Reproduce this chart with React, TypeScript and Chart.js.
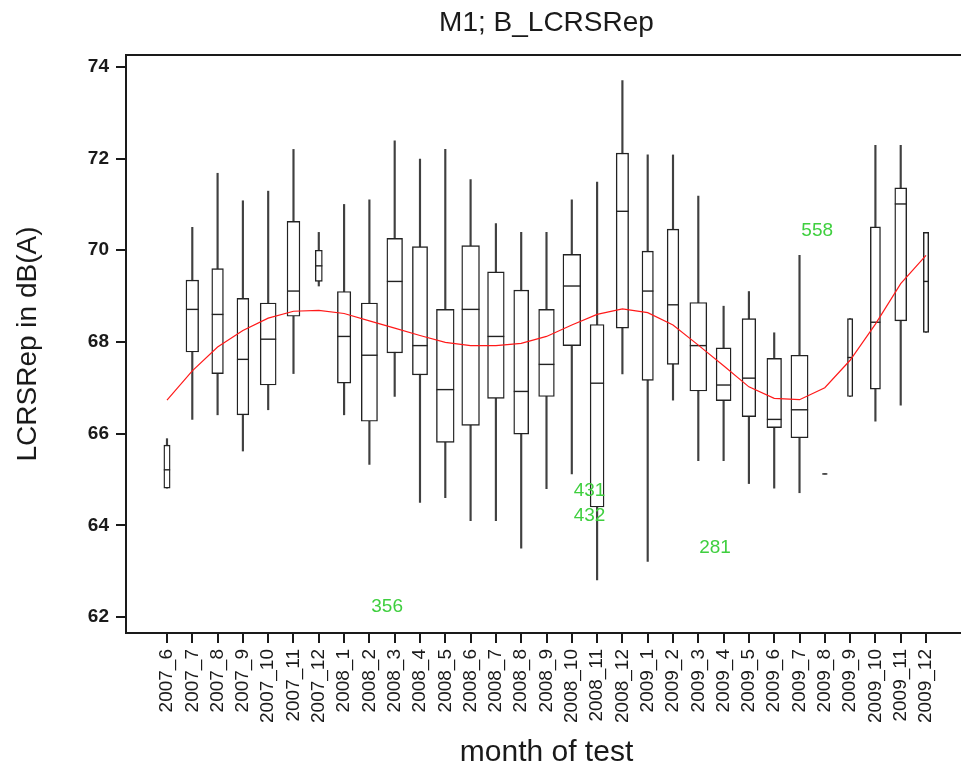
import React, { useEffect, useRef } from "react";
import { Chart, registerables } from "chart.js";

Chart.register(...registerables);

const months = [
  "2007_6", "2007_7", "2007_8", "2007_9", "2007_10", "2007_11", "2007_12",
  "2008_1", "2008_2", "2008_3", "2008_4", "2008_5", "2008_6", "2008_7", "2008_8", "2008_9", "2008_10", "2008_11", "2008_12",
  "2009_1", "2009_2", "2009_3", "2009_4", "2009_5", "2009_6", "2009_7", "2009_8", "2009_9", "2009_10", "2009_11", "2009_12",
];

const whiskerLow = [64.81, 66.31, 66.41, 65.62, 66.52, 67.31, 69.22, 66.41, 65.33, 66.81, 64.5, 64.6, 64.1, 64.1, 63.5, 64.8, 65.12, 62.81, 67.3, 63.21, 66.73, 65.41, 65.41, 64.91, 64.81, 64.71, 65.12, 66.81, 66.27, 66.62, 68.21];
const q1 = [64.81, 67.78, 67.31, 66.41, 67.06, 68.56, 69.32, 67.1, 66.27, 67.76, 67.28, 65.81, 66.18, 66.77, 65.99, 66.81, 67.92, 64.4, 68.3, 67.16, 67.51, 66.93, 66.72, 66.37, 66.13, 65.91, 65.12, 66.81, 66.97, 68.46, 68.21];
const median = [65.21, 68.71, 68.6, 67.62, 68.06, 69.11, 69.66, 68.12, 67.71, 69.32, 67.92, 66.96, 68.71, 68.12, 66.92, 67.51, 69.22, 67.1, 70.85, 69.11, 68.81, 67.92, 67.06, 67.21, 66.31, 66.52, 65.12, 67.66, 68.43, 71.01, 69.32];
const q3 = [65.75, 69.35, 69.6, 68.95, 68.85, 70.63, 70.0, 69.1, 68.85, 70.26, 70.08, 68.71, 70.1, 69.53, 69.13, 68.71, 69.91, 68.38, 72.12, 69.98, 70.46, 68.86, 67.87, 68.51, 67.64, 67.71, 65.12, 68.51, 70.51, 71.36, 70.39];
const whiskerHigh = [65.89, 70.5, 71.68, 71.08, 71.29, 72.2, 70.39, 71.0, 71.1, 72.39, 71.99, 72.2, 71.54, 70.58, 70.39, 70.39, 71.1, 71.49, 73.7, 72.08, 72.08, 71.18, 68.78, 69.1, 68.2, 69.89, 65.12, 68.51, 72.29, 72.29, 70.39];
// relative box width (variable-width boxplot, in category units)
const boxWidthRel = [0.25, 0.5, 0.46, 0.47, 0.63, 0.51, 0.28, 0.53, 0.64, 0.62, 0.6, 0.7, 0.7, 0.66, 0.59, 0.62, 0.7, 0.55, 0.49, 0.45, 0.46, 0.67, 0.59, 0.54, 0.58, 0.68, 0.2, 0.21, 0.4, 0.47, 0.21];
const smoothLine = [66.73, 67.37, 67.89, 68.25, 68.52, 68.67, 68.69, 68.62, 68.46, 68.3, 68.14, 67.99, 67.92, 67.92, 67.97, 68.12, 68.37, 68.6, 68.72, 68.64, 68.37, 67.93, 67.48, 67.02, 66.77, 66.74, 67.0, 67.6, 68.39, 69.27, 69.89];

const outlierLabels = ["356", "431", "432", "281", "558"];
const outlierX = [8.7, 16.7, 16.7, 21.66, 25.7];
const outlierY = [62.22, 64.75, 64.2, 63.5, 70.42];

const yTicks = [62, 64, 66, 68, 70, 72, 74];

const FONT = "'Liberation Sans', Arial, sans-serif";

export default function App() {
  const ref = useRef<HTMLCanvasElement | null>(null);

  useEffect(() => {
    const canvas = ref.current;
    if (!canvas) return;

    const boxPlugin = {
      id: "boxExtras",
      afterDatasetsUpdate(chart: any) {
        const x = chart.scales.x;
        const meta = chart.getDatasetMeta(1);
        meta.data.forEach((el: any, i: number) => {
          const w = x.getPixelForValue(i + boxWidthRel[i] / 2) - x.getPixelForValue(i - boxWidthRel[i] / 2);
          el.width = w;
        });
      },
      afterDatasetDraw(chart: any, args: any) {
        if (args.index !== 1) return;
        const { ctx } = chart;
        const x = chart.scales.x;
        const y = chart.scales.y;
        ctx.save();
        ctx.strokeStyle = "#222222";
        ctx.lineWidth = 1.4;
        median.forEach((m, i) => {
          const cx = x.getPixelForValue(i);
          const half = (x.getPixelForValue(i + boxWidthRel[i] / 2) - x.getPixelForValue(i - boxWidthRel[i] / 2)) / 2;
          const py = y.getPixelForValue(m);
          ctx.beginPath();
          ctx.moveTo(cx - half, py);
          ctx.lineTo(cx + half, py);
          ctx.stroke();
        });
        ctx.restore();
      },
      afterDatasetsDraw(chart: any) {
        const { ctx, chartArea } = chart;
        const x = chart.scales.x;
        const y = chart.scales.y;
        ctx.save();
        ctx.fillStyle = "#3fcf3f";
        ctx.font = `19px ${FONT}`;
        ctx.textAlign = "center";
        ctx.textBaseline = "middle";
        outlierLabels.forEach((t, i) => {
          ctx.fillText(t, x.getPixelForValue(outlierX[i]), y.getPixelForValue(outlierY[i]));
        });
        ctx.strokeStyle = "#1a1a1a";
        ctx.lineWidth = 2;
        ctx.strokeRect(chartArea.left, chartArea.top, chartArea.right - chartArea.left, chartArea.bottom - chartArea.top);
        ctx.restore();
      },
    };

    const chart = new Chart(canvas, {
      type: "bar",
      data: {
        datasets: [
          {
            type: "line",
            label: "smooth",
            data: smoothLine.map((v, i) => ({ x: i, y: v })),
            borderColor: "#ff1a1a",
            borderWidth: 1.2,
            pointRadius: 0,
            tension: 0,
            order: 0,
          } as any,
          {
            type: "bar",
            label: "box",
            data: q1.map((v, i) => ({ x: i, y: [v, q3[i]] })),
            backgroundColor: "#ffffff",
            borderColor: "#222222",
            borderWidth: 1.4,
            borderSkipped: false,
            barThickness: 12,
            grouped: false,
            order: 1,
          } as any,
          {
            type: "bar",
            label: "whisker",
            data: whiskerLow.map((v, i) => ({ x: i, y: [v, whiskerHigh[i]] })),
            backgroundColor: "#404040",
            borderWidth: 0,
            barThickness: 1.5,
            grouped: false,
            order: 2,
          } as any,
        ],
      },
      options: {
        animation: false,
        responsive: false,
        maintainAspectRatio: false,
        layout: { padding: { left: 0, right: 23, top: 0, bottom: 0 } },
        plugins: {
          legend: { display: false },
          tooltip: { enabled: false },
          title: {
            display: true,
            text: "M1; B_LCRSRep",
            fullSize: false,
            color: "#1a1a1a",
            font: { family: FONT, size: 28, weight: "normal" as any, lineHeight: 1.2 },
            padding: { top: 6, bottom: 15.4 },
          },
        },
        scales: {
          x: {
            type: "linear",
            min: -1.62,
            max: 31.62,
            offset: false,
            afterBuildTicks(scale: any) {
              scale.ticks = months.map((_, i) => ({ value: i }));
            },
            afterFit(scale: any) {
              scale.height = 138;
            },
            ticks: {
              autoSkip: false,
              maxRotation: 90,
              minRotation: 90,
              padding: 6,
              color: "#1a1a1a",
              font: { family: FONT, size: 19 },
              callback: (v: any) => months[v] ?? "",
            },
            grid: {
              display: true,
              offset: false,
              drawOnChartArea: false,
              drawTicks: true,
              tickLength: 10,
              color: "#1a1a1a",
              lineWidth: 2,
            },
            border: { display: false },
            title: {
              display: true,
              text: "month of test",
              color: "#1a1a1a",
              font: { family: FONT, size: 30, lineHeight: 1.2 },
              padding: { top: 0, bottom: 0 },
            },
          },
          y: {
            type: "linear",
            min: 61.65,
            max: 74.26,
            afterBuildTicks(scale: any) {
              scale.ticks = yTicks.map((v) => ({ value: v }));
            },
            afterFit(scale: any) {
              scale.width = 126;
            },
            ticks: {
              padding: 7,
              color: "#1a1a1a",
              font: { family: FONT, size: 19, weight: "bold" as any },
            },
            grid: {
              display: true,
              drawOnChartArea: false,
              drawTicks: true,
              tickLength: 10,
              color: "#1a1a1a",
              lineWidth: 2,
            },
            border: { display: false },
            title: {
              display: true,
              text: "LCRSRep in dB(A)",
              color: "#1a1a1a",
              font: { family: FONT, size: 28, lineHeight: 1.2 },
              padding: { top: 11, bottom: 0 },
            },
          },
        },
      },
      plugins: [boxPlugin],
    });

    return () => chart.destroy();
  }, []);

  return (
    <div style={{ position: "fixed", left: 0, top: 0, width: 961, height: 771, overflow: "hidden", background: "#fff" }}>
      <canvas ref={ref} width={990} height={771} style={{ display: "block", width: 990, height: 771 }} />
    </div>
  );
}
